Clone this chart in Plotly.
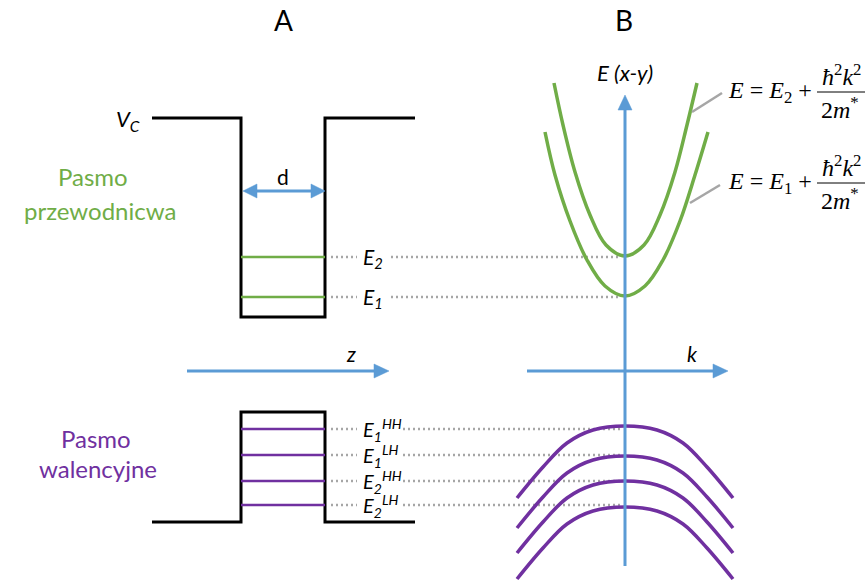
import plotly.graph_objects as go

# ---------------- data (diagram coordinates, pixel space) ----------------
well_x = [152, 241, 241, 325, 325, 415]
cb_well_y = [118, 118, 317, 317, 118, 118]
vb_well_y = [522, 522, 412, 412, 522, 522]
well_level_x = [241, 325]

cb_levels = [257, 297]
cb_labels = ["<i>E</i><sub><i>2</i></sub>", "<i>E</i><sub><i>1</i></sub>"]
vb_levels = [429, 455, 481, 505]
vb_labels = ["<i>E</i><sub><i>1</i></sub><sup><i>HH</i></sup>",
             "<i>E</i><sub><i>1</i></sub><sup><i>LH</i></sup>",
             "<i>E</i><sub><i>2</i></sub><sup><i>HH</i></sup>",
             "<i>E</i><sub><i>2</i></sub><sup><i>LH</i></sup>"]

# conduction band parabolas (E2 upper, E1 lower)
cb_e2_x = [554, 563, 575, 590, 606, 625, 644, 660, 675, 687, 697]
cb_e2_y = [83, 125, 172, 215, 245, 256, 245, 215, 172, 125, 83]
cb_e1_x = [545, 555, 570, 587, 605, 625, 645, 663, 680, 695, 708]
cb_e1_y = [132, 175, 221, 260, 286, 296, 286, 260, 221, 175, 132]

# valence band humps: peak heights and common shape
vb_peaks = [426, 456, 481, 507]
vb_dx = [-108, -82, -58, -32, 0, 32, 58, 82, 108]
vb_drop = [72, 41, 17, 4, 0, 4, 17, 41, 72]
k0 = 625

formulas = [("<i>E</i> = <i>E</i><sub>2</sub> +", 92), ("<i>E</i> = <i>E</i><sub>1</sub> +", 183)]

BLUE = "#5b9bd5"
GREEN = "#70ad47"
PURPLE = "#7030a0"
GRAY = "#a6a6a6"
SANS = "Lato"
SERIF = "Liberation Serif"

fig = go.Figure()


def line(xs, ys, color, width, dash=None, shape="linear"):
    fig.add_trace(go.Scatter(x=xs, y=ys, mode="lines", hoverinfo="skip",
                             line=dict(color=color, width=width, dash=dash, shape=shape)))


def tri(xs, ys, color):
    fig.add_trace(go.Scatter(x=xs, y=ys, mode="lines", fill="toself", fillcolor=color,
                             hoverinfo="skip", line=dict(color=color, width=0.5)))


def text(x, y, s, size, color="black", family=SANS, xanchor="center"):
    fig.add_annotation(x=x, y=y, text=s, showarrow=False, xanchor=xanchor, yanchor="middle",
                       font=dict(size=size, color=color, family=family))


# dotted guide lines
for y in cb_levels:
    line([331, 357], [y, y], GRAY, 2.5, dash="2px,3px")
    line([391, 620], [y, y], GRAY, 2.5, dash="2px,3px")
for y in vb_levels:
    line([331, 357], [y, y], GRAY, 2.5, dash="2px,3px")
    line([403, 620], [y, y], GRAY, 2.5, dash="2px,3px")

# wells
line(well_x, cb_well_y, "black", 3)
line(well_x, vb_well_y, "black", 3)
for y in cb_levels:
    line(well_level_x, [y, y], GREEN, 2.5)
for y in vb_levels:
    line(well_level_x, [y, y], PURPLE, 2.5)

# band curves
line(cb_e2_x, cb_e2_y, GREEN, 3.5, shape="spline")
line(cb_e1_x, cb_e1_y, GREEN, 3.5, shape="spline")
for p in vb_peaks:
    line([k0 + d for d in vb_dx], [p + d for d in vb_drop], PURPLE, 3.5, shape="spline")

# leader lines
line([692, 722], [112, 93], GRAY, 2.5)
line([690, 720], [203, 185], GRAY, 2.5)

# arrows
line([187, 376], [371, 371], BLUE, 3)
tri([374, 389, 374, 374], [364, 371, 378, 364], BLUE)
line([527, 715], [371, 371], BLUE, 3)
tri([713, 728, 713, 713], [364, 371, 378, 364], BLUE)
line([625, 625], [566, 108], BLUE, 3)
tri([618, 625, 632, 618], [110, 95, 110, 110], BLUE)
line([255, 313], [191, 191], BLUE, 3)
tri([257, 243, 257, 257], [184, 191, 198, 184], BLUE)
tri([311, 325, 311, 311], [184, 191, 198, 184], BLUE)

# texts
text(283, 20, "A", 28)
text(624, 20, "B", 28)
text(142, 120, "<i>V</i><sub><i>C</i></sub>", 22, xanchor="right")
text(283, 176, "d", 21)
text(93, 176, "Pasmo", 24, GREEN)
text(100, 210, "przewodnicwa", 24, GREEN)
text(96, 438, "Pasmo", 24, PURPLE)
text(98, 468, "walencyjne", 24, PURPLE)
text(351, 353, "<i>z</i>", 21)
text(692, 353, "<i>k</i>", 21)
text(625, 72, "<i>E (x-y)</i>", 22)
for y, s in zip(cb_levels, cb_labels):
    text(361, y + 1, s, 21, xanchor="left")
for y, s in zip(vb_levels, vb_labels):
    text(361, y + 1, s, 20, xanchor="left")

for s, y in formulas:
    text(726, y, s, 24, family=SERIF, xanchor="left")
    text(841, y - 17, "<i>ħ</i><sup>2</sup><i>k</i><sup>2</sup>", 24, family=SERIF)
    text(840, y + 16, "2<i>m</i><sup>*</sup>", 24, family=SERIF)
    line([817, 865], [y, y], "black", 1)

fig.update_layout(
    width=866, height=582, margin=dict(l=0, r=0, t=0, b=0),
    paper_bgcolor="white", plot_bgcolor="white", showlegend=False,
    xaxis=dict(range=[0, 866], visible=False, fixedrange=True),
    yaxis=dict(range=[582, 0], visible=False, fixedrange=True),
)

fig.write_html("out.html", config={"displayModeBar": False})
